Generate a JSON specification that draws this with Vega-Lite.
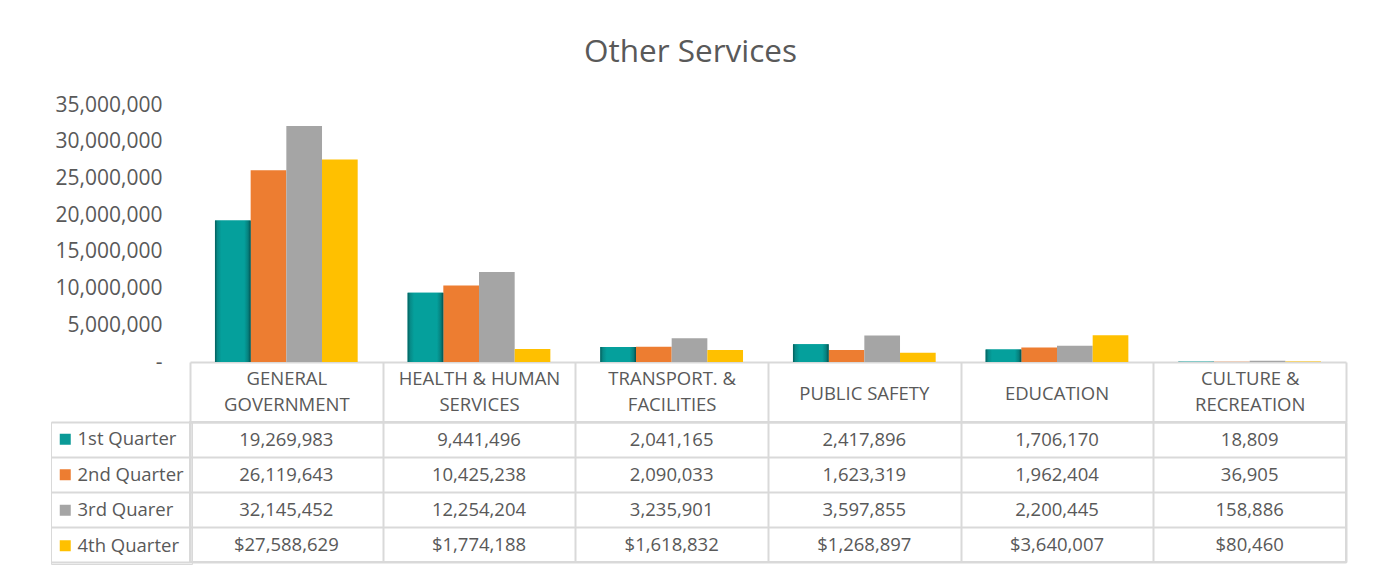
{
  "$schema": "https://vega.github.io/schema/vega-lite/v6.json",
  "padding": {"left": 49, "top": 36, "right": 30, "bottom": 10},
  "autosize": {"type": "pad"},
  "background": "white",
  "title": {"text": "Other Services", "font": "Open Sans", "fontSize": 31.5, "fontWeight": "normal", "color": "#595959", "anchor": "middle", "frame": "bounds", "offset": 26, "dx": -8},
  "datasets": {
    "services": [
      {"category": "GENERAL GOVERNMENT", "quarter": "1st Quarter", "value": 19269983},
      {"category": "GENERAL GOVERNMENT", "quarter": "2nd Quarter", "value": 26119643},
      {"category": "GENERAL GOVERNMENT", "quarter": "3rd Quarer", "value": 32145452},
      {"category": "GENERAL GOVERNMENT", "quarter": "4th Quarter", "value": 27588629},
      {"category": "HEALTH & HUMAN SERVICES", "quarter": "1st Quarter", "value": 9441496},
      {"category": "HEALTH & HUMAN SERVICES", "quarter": "2nd Quarter", "value": 10425238},
      {"category": "HEALTH & HUMAN SERVICES", "quarter": "3rd Quarer", "value": 12254204},
      {"category": "HEALTH & HUMAN SERVICES", "quarter": "4th Quarter", "value": 1774188},
      {"category": "TRANSPORT. & FACILITIES", "quarter": "1st Quarter", "value": 2041165},
      {"category": "TRANSPORT. & FACILITIES", "quarter": "2nd Quarter", "value": 2090033},
      {"category": "TRANSPORT. & FACILITIES", "quarter": "3rd Quarer", "value": 3235901},
      {"category": "TRANSPORT. & FACILITIES", "quarter": "4th Quarter", "value": 1618832},
      {"category": "PUBLIC SAFETY", "quarter": "1st Quarter", "value": 2417896},
      {"category": "PUBLIC SAFETY", "quarter": "2nd Quarter", "value": 1623319},
      {"category": "PUBLIC SAFETY", "quarter": "3rd Quarer", "value": 3597855},
      {"category": "PUBLIC SAFETY", "quarter": "4th Quarter", "value": 1268897},
      {"category": "EDUCATION", "quarter": "1st Quarter", "value": 1706170},
      {"category": "EDUCATION", "quarter": "2nd Quarter", "value": 1962404},
      {"category": "EDUCATION", "quarter": "3rd Quarer", "value": 2200445},
      {"category": "EDUCATION", "quarter": "4th Quarter", "value": 3640007},
      {"category": "CULTURE & RECREATION", "quarter": "1st Quarter", "value": 18809},
      {"category": "CULTURE & RECREATION", "quarter": "2nd Quarter", "value": 36905},
      {"category": "CULTURE & RECREATION", "quarter": "3rd Quarer", "value": 158886},
      {"category": "CULTURE & RECREATION", "quarter": "4th Quarter", "value": 80460}
    ]
  },
  "bounds": "flush",
  "spacing": 60,
  "resolve": {"scale": {"color": "independent"}, "legend": {"color": "independent"}},
  "config": {"view": {"stroke": null}, "font": "Open Sans"},
  "vconcat": [
    {
      "width": 1156,
      "height": 257,
      "data": {"name": "services"},
      "encoding": {
        "x": {
          "field": "category", "type": "nominal",
          "sort": ["GENERAL GOVERNMENT", "HEALTH & HUMAN SERVICES", "TRANSPORT. & FACILITIES", "PUBLIC SAFETY", "EDUCATION", "CULTURE & RECREATION"],
          "scale": {"paddingInner": 0, "paddingOuter": 0},
          "axis": {
            "title": null, "ticks": false, "domain": true, "domainColor": "#d9d9d9", "domainWidth": 2,
            "labelAngle": 0, "labelBaseline": "middle", "labelPadding": 31, "labelLimit": 250,
            "labelFont": "Open Sans", "labelFontSize": 18.5, "labelColor": "#595959",
            "labelExpr": "datum.label === 'PUBLIC SAFETY' || datum.label === 'EDUCATION' ? datum.label : ''"
          }
        },
        "xOffset": {
          "field": "quarter", "type": "nominal",
          "scale": {"domain": ["1st Quarter", "2nd Quarter", "3rd Quarer", "4th Quarter"], "paddingInner": 0, "paddingOuter": 0.7}
        },
        "y": {
          "field": "value", "type": "quantitative",
          "scale": {"domain": [0, 35000000], "nice": false},
          "axis": {
            "title": null, "values": [0, 5000000, 10000000, 15000000, 20000000, 25000000, 30000000, 35000000],
            "domain": false, "ticks": false, "grid": false, "labelPadding": 28,
            "labelFont": "Open Sans", "labelFontSize": 21, "labelColor": "#595959",
            "labelExpr": "datum.value === 0 ? '-' : format(datum.value, ',')"
          }
        }
      },
      "layer": [
        {
          "mark": {"type": "bar"},
          "encoding": {
            "color": {
              "field": "quarter", "type": "nominal",
              "scale": {"domain": ["1st Quarter", "2nd Quarter", "3rd Quarer", "4th Quarter"], "range": ["#05A09C", "#ED7D31", "#A5A5A5", "#FFC000"]},
              "legend": null
            }
          }
        },
        {
          "transform": [{"filter": "datum.quarter === '1st Quarter'"}],
          "mark": {
            "type": "bar",
            "color": {
              "gradient": "linear", "x1": 0, "x2": 1, "y1": 0, "y2": 0,
              "stops": [
                {"offset": 0, "color": "#045e5c"},
                {"offset": 0.07, "color": "#078a87"},
                {"offset": 0.18, "color": "#05A09C"},
                {"offset": 0.82, "color": "#05A09C"},
                {"offset": 0.93, "color": "#06807d"},
                {"offset": 1, "color": "#034f4d"}
              ]
            }
          }
        }
      ]
    },
    {
      "width": 1156,
      "height": 140,
      "data": {"name": "services"},
      "view": {"stroke": "#d9d9d9", "strokeWidth": 2},
      "encoding": {
        "x": {
          "field": "category", "type": "nominal",
          "sort": ["GENERAL GOVERNMENT", "HEALTH & HUMAN SERVICES", "TRANSPORT. & FACILITIES", "PUBLIC SAFETY", "EDUCATION", "CULTURE & RECREATION"],
          "scale": {"paddingInner": 0, "paddingOuter": 0},
          "axis": {
            "orient": "top", "title": null,
            "domain": true, "domainColor": "#d9d9d9", "domainWidth": 2,
            "ticks": true, "tickBand": "extent", "tickSize": 60, "tickColor": "#d9d9d9", "tickWidth": 2,
            "grid": true, "gridColor": "#d9d9d9", "gridWidth": 2,
            "labelAngle": 0, "labelBaseline": "middle", "labelPadding": -16.5, "labelLimit": 250,
            "labelFont": "Open Sans", "labelFontSize": 18.5, "labelColor": "#595959", "labelLineHeight": 25.5,
            "labelExpr": "datum.label === 'GENERAL GOVERNMENT' ? ['GENERAL', 'GOVERNMENT'] : datum.label === 'HEALTH & HUMAN SERVICES' ? ['HEALTH & HUMAN', 'SERVICES'] : datum.label === 'TRANSPORT. & FACILITIES' ? ['TRANSPORT. &', 'FACILITIES'] : datum.label === 'CULTURE & RECREATION' ? ['CULTURE &', 'RECREATION'] : ''"
          }
        },
        "y": {
          "field": "quarter", "type": "nominal",
          "sort": ["1st Quarter", "2nd Quarter", "3rd Quarer", "4th Quarter"],
          "scale": {"paddingInner": 0, "paddingOuter": 0},
          "axis": {
            "title": null, "labels": false,
            "domain": true, "domainColor": "#d9d9d9", "domainWidth": 2,
            "ticks": true, "tickBand": "extent", "tickSize": 139, "tickColor": "#d9d9d9", "tickWidth": 2,
            "grid": true, "gridColor": "#d9d9d9", "gridWidth": 2
          }
        }
      },
      "layer": [
        {
          "mark": {"type": "square", "opacity": 0},
          "encoding": {
            "color": {
              "field": "quarter", "type": "nominal",
              "scale": {"domain": ["1st Quarter", "2nd Quarter", "3rd Quarer", "4th Quarter"], "range": ["#0A9A97", "#ED7D31", "#A5A5A5", "#FFC000"]},
              "legend": {
                "orient": "none", "legendX": -139, "legendY": 0, "title": null,
                "symbolType": "square", "symbolSize": 121, "symbolOpacity": 1, "symbolStrokeWidth": 0, "symbolOffset": -3,
                "labelFont": "Open Sans", "labelFontSize": 18.5, "labelColor": "#595959", "labelOffset": 3,
                "padding": 8, "rowPadding": 16.5, "strokeColor": "#d9d9d9"
              }
            }
          }
        },
        {
          "transform": [{"filter": "datum.quarter !== '4th Quarter'"}],
          "mark": {"type": "text", "font": "Open Sans", "fontSize": 18.5, "color": "#595959", "align": "center", "baseline": "middle"},
          "encoding": {"text": {"field": "value", "type": "quantitative", "format": ",d"}}
        },
        {
          "transform": [{"filter": "datum.quarter === '4th Quarter'"}],
          "mark": {"type": "text", "font": "Open Sans", "fontSize": 18.5, "color": "#595959", "align": "center", "baseline": "middle"},
          "encoding": {"text": {"field": "value", "type": "quantitative", "format": "$,d"}}
        }
      ]
    }
  ]
}
